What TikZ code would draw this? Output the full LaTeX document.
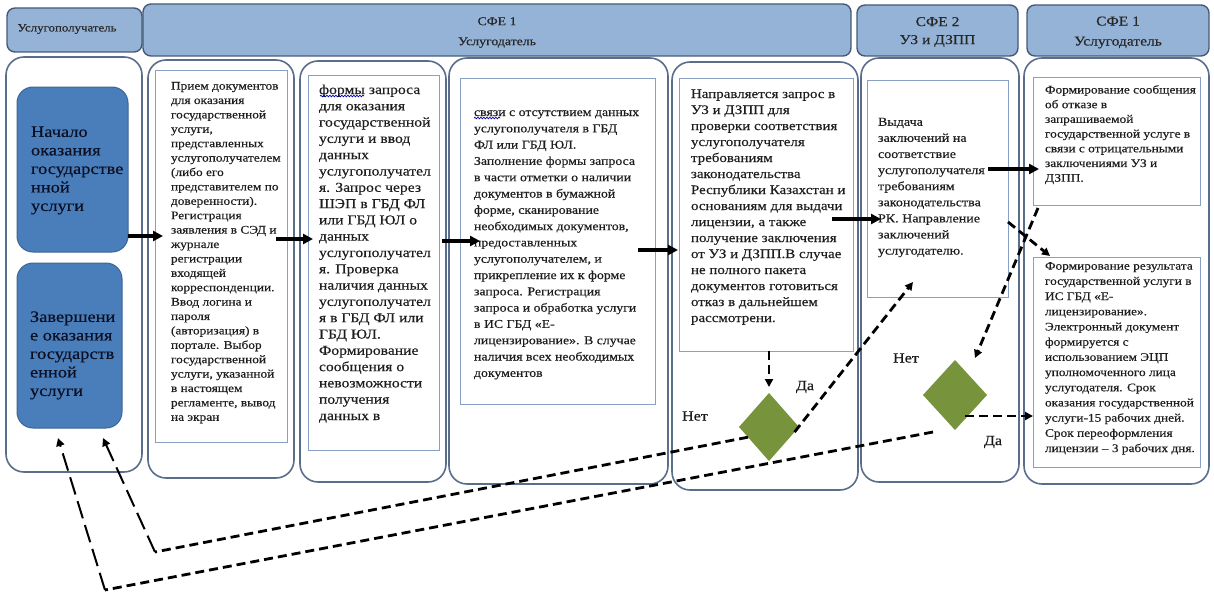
\documentclass[tikz,border=0pt]{standalone}
\usepackage{fontspec}
\setmainfont{Liberation Serif}
\newfontfamily\tf[FakeStretch=1.15,FakeBold=0.35]{Liberation Serif}
\usetikzlibrary{shapes.geometric,arrows.meta,decorations.pathmorphing,calc}
\definecolor{hdrfill}{RGB}{149,179,215}
\definecolor{hdrdraw}{RGB}{70,90,120}
\definecolor{lanedraw}{RGB}{90,110,140}
\definecolor{iboxdraw}{RGB}{135,160,195}
\definecolor{darkfill}{RGB}{74,126,187}
\definecolor{darkdraw}{RGB}{60,100,150}
\definecolor{greenc}{RGB}{119,147,60}
\definecolor{txtc}{RGB}{30,30,30}
\definecolor{darktxt}{RGB}{10,15,35}
\begin{document}
\begin{tikzpicture}[x=1pt,y=-1pt,
  hdr/.style={draw=hdrdraw,line width=1.4pt,fill=hdrfill,rounded corners=8pt,inner sep=0pt,outer sep=0pt},
  htxt/.style={inner sep=0pt,align=center,text=black!85},
  lane/.style={draw=lanedraw,line width=1.6pt,rounded corners=18pt,fill=white,inner sep=0pt,outer sep=0pt},
  ibox/.style={draw=iboxdraw,line width=1pt,inner sep=0pt,outer sep=0pt},
  dbox/.style={draw=darkdraw,line width=1pt,fill=darkfill,rounded corners=16pt,inner sep=0pt,outer sep=0pt},
  txt/.style={anchor=north west,inner sep=0pt,outer sep=0pt,align=left,text=txtc},
  dtxt/.style={anchor=north west,inner sep=0pt,outer sep=0pt,align=left,text=darktxt,font=\tf\fontsize{16}{18.5}\selectfont},
  dia/.style={diamond,fill=greenc,inner sep=0pt,outer sep=0pt},
  lbl/.style={font=\tf\fontsize{14}{16}\selectfont,text=black!90,inner sep=0pt},
  arr/.style={line width=3.4pt,-{Triangle[length=10pt,width=10pt]}},
  darr/.style={line width=2.8pt,dash pattern=on 9pt off 5pt,-{Triangle[length=8pt,width=8pt]}},
  dline/.style={line width=2.8pt,dash pattern=on 9pt off 5pt},
  ldarr/.style={line width=2pt,dash pattern=on 18pt off 7pt,-{Triangle[length=8pt,width=8pt]}},
  wavy/.style={draw=blue!70!black,line width=0.7pt,decorate,decoration={snake,amplitude=0.8pt,segment length=3pt}}
]
\useasboundingbox (0,0) rectangle (1214,594);

% headers
\node[hdr,minimum width=135pt,minimum height=44pt] (h0) at (74.5,30) {};
\node[hdr,minimum width=708pt,minimum height=52pt] (h1) at (497,30) {};
\node[hdr,minimum width=161pt,minimum height=51pt] (h2) at (937.5,30.5) {};
\node[hdr,minimum width=182pt,minimum height=51pt] (h3) at (1118,30.5) {};
\node[htxt,font=\tf\fontsize{11.2}{12}\selectfont] (h0t) at (67,29) {Услугополучатель};
\node[htxt,font=\tf\fontsize{12}{20}\selectfont] (h1t) at (497,32.5) {СФЕ 1\\Услугодатель};
\node[htxt,font=\tf\fontsize{13.5}{18}\selectfont] (h2t) at (937.5,32) {СФЕ 2\\УЗ и ДЗПП};
\node[htxt,font=\tf\fontsize{13.5}{20}\selectfont] (h3t) at (1118,32.5) {СФЕ 1\\Услугодатель};

% lanes
\node[lane,minimum width=136pt,minimum height=415pt] (l1) at (74,264.5) {};
\node[lane,minimum width=146pt,minimum height=418pt] (l2) at (221,269) {};
\node[lane,minimum width=146pt,minimum height=421pt] (l3) at (373,271.5) {};
\node[lane,minimum width=219pt,minimum height=426pt] (l4) at (558.5,271) {};
\node[lane,minimum width=186pt,minimum height=428pt] (l5) at (765,276) {};
\node[lane,minimum width=158pt,minimum height=424pt] (l6) at (940,270) {};
\node[lane,minimum width=185pt,minimum height=426pt] (l7) at (1116.5,271) {};

% inner boxes
\node[ibox,minimum width=132pt,minimum height=372pt] (A) at (221,256) {};
\node[ibox,minimum width=131pt,minimum height=375pt] (B) at (373.5,262.5) {};
\node[ibox,minimum width=195pt,minimum height=326pt] (C) at (557.5,241) {};
\node[ibox,minimum width=174pt,minimum height=273pt] (D) at (766,214.5) {};
\node[ibox,minimum width=141pt,minimum height=217pt] (E) at (937.5,188.5) {};
\node[ibox,minimum width=167pt,minimum height=128pt] (F) at (1116.5,141) {};
\node[ibox,minimum width=167pt,minimum height=210pt] (G) at (1116.5,362) {};

% dark boxes
\node[dbox,minimum width=111pt,minimum height=165pt] (S) at (72.5,169.5) {};
\node[dbox,minimum width=105pt,minimum height=165pt] (En) at (69.5,345.5) {};
\node[dtxt] (St) at (31,124) {\strut Начало\\оказания\\государстве\\нной\\услуги};
\node[dtxt] (Et) at (30,309) {\strut Завершени\\е оказания\\государств\\енной\\услуги};

% texts
\node[txt,font=\tf\fontsize{11.6}{14.4}\selectfont] (At) at (171,79.5) {\strut Прием документов\\для оказания\\государственной\\услуги,\\представленных\\услугополучателем\\(либо его\\представителем по\\доверенности).\\Регистрация\\заявления в СЭД и\\журнале\\регистрации\\входящей\\корреспонденции.\\Ввод логина и\\пароля\\(авторизация) в\\портале. Выбор\\государственной\\услуги, указанной\\в настоящем\\регламенте, вывод\\на экран};
\node[txt,font=\tf\fontsize{13.6}{16.3}\selectfont] (Bt) at (319,82.6) {\strut формы запроса\\для оказания\\государственной\\услуги и ввод\\данных\\услугополучател\\я. Запрос через\\ШЭП в ГБД ФЛ\\или ГБД ЮЛ о\\данных\\услугополучател\\я. Проверка\\наличия данных\\услугополучател\\я в ГБД ФЛ или\\ГБД ЮЛ.\\Формирование\\сообщения о\\невозможности\\получения\\данных в};
\node[txt,font=\tf\fontsize{12}{16.3}\selectfont] (Ct) at (474,104.6) {\strut связи с отсутствием данных\\услугополучателя в ГБД\\ФЛ или ГБД ЮЛ.\\Заполнение формы запроса\\в части отметки о наличии\\документов в бумажной\\форме, сканирование\\необходимых документов,\\предоставленных\\услугополучателем, и\\прикрепление их к форме\\запроса. Регистрация\\запроса и обработка услуги\\в ИС ГБД «Е-\\лицензирование». В случае\\наличия всех необходимых\\документов};
\node[txt,font=\tf\fontsize{13}{16}\selectfont] (Dt) at (691,86.8) {\strut Направляется запрос в\\УЗ и ДЗПП для\\проверки соответствия\\услугополучателя\\требованиям\\законодательства\\Республики Казахстан и\\основаниям для выдачи\\лицензии, а также\\получение заключения\\от УЗ и ДЗПП.В случае\\не полного пакета\\документов готовиться\\отказ в дальнейшем\\рассмотрени.};
\node[txt,font=\tf\fontsize{12.2}{16.1}\selectfont] (Et2) at (878,114.5) {\strut Выдача\\заключений на\\соответствие\\услугополучателя\\требованиям\\законодательства\\РК. Направление\\заключений\\услугодателю.};
\node[txt,font=\tf\fontsize{11.6}{14.7}\selectfont] (Ft) at (1045,83.2) {\strut Формирование сообщения\\об отказе в\\запрашиваемой\\государственной услуге в\\связи с отрицательными\\заключениями УЗ и\\ДЗПП.};
\node[txt,font=\tf\fontsize{11.6}{15.2}\selectfont] (Gt) at (1045,259) {\strut Формирование результата\\государственной услуги в\\ИС ГБД «Е-\\лицензирование».\\Электронный документ\\формируется с\\использованием ЭЦП\\уполномоченного лица\\услугодателя. Срок\\оказания государственной\\услуги-15 рабочих дней.\\Срок переоформления\\лицензии – 3 рабочих дня.};

% spell-check underlines
\draw[wavy] (320,96) -- (364,96);
\draw[wavy] (474,118) -- (500,118);

% diamonds
\node[dia,minimum width=60pt,minimum height=68pt] (D1) at (769,427) {};
\node[dia,minimum width=64pt,minimum height=70pt] (D2) at (955,395) {};

% labels
\node[lbl] (n1) at (695,416) {Нет};
\node[lbl] (y1) at (805,387) {Да};
\node[lbl] (n2) at (906,358) {Нет};
\node[lbl] (y2) at (993,442) {Да};

% solid arrows
\coordinate (a1) at (163,236);
\draw[arr] (S.east |- a1) -- (a1);
\coordinate (a2s) at (276,239); \coordinate (a2e) at (313,239);
\draw[arr] (a2s) -- (a2e);
\coordinate (a3s) at (442,241); \coordinate (a3e) at (480,241);
\draw[arr] (a3s) -- (a3e);
\coordinate (a4s) at (638,250); \coordinate (a4e) at (678,250);
\draw[arr] (a4s) -- (a4e);
\coordinate (a5s) at (832,219); \coordinate (a5e) at (881,219);
\draw[arr] (a5s) -- (a5e);
\coordinate (a6s) at (988,169); \coordinate (a6e) at (1039,169);
\draw[arr] (a6s) -- (a6e);

% dashed connectors
\draw[darr,shorten >=6pt] (D.south -| D1.north) -- (D1.north);
\coordinate (e2) at (913,282);
\draw[darr] ($(D1.east)!0.15!(D1.south)$) -- (e2);
\coordinate (c1) at (155,552);
\coordinate (en1) at (103,438);
\draw[dline] ($(D1.west)!0.3!(D1.south)$) -- (c1);
\draw[ldarr] (c1) -- (en1);
\coordinate (d4s) at (933,432);
\coordinate (c2) at (105,590);
\coordinate (en2) at (58,438);
\draw[dline] (d4s) -- (c2);
\draw[ldarr] (c2) -- (en2);
\coordinate (f1) at (1038,208);
\coordinate (d2t) at (975,358);
\draw[darr] (f1) -- (d2t);
\coordinate (e6s) at (1008,222);
\coordinate (g6e) at (1050,256);
\draw[darr] (e6s) -- (g6e);
\coordinate (d7s) at (965,416);
\draw[darr] (d7s) -- (d7s -| G.west);
\end{tikzpicture}
\end{document}
